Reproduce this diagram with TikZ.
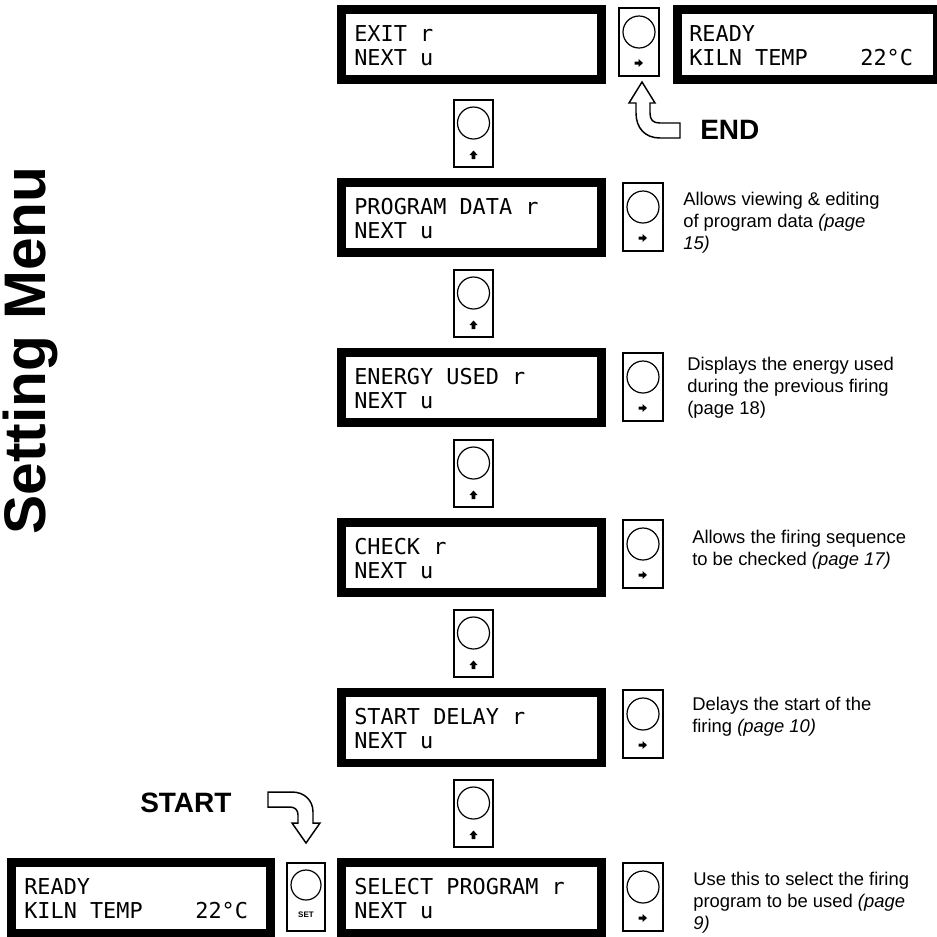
\documentclass[tikz,border=0pt]{standalone}
\usepackage{fontspec}
\setmainfont{Liberation Sans}
\newfontfamily\lcdfont{DejaVu Sans Mono}

\begin{document}
\begin{tikzpicture}[x=0.75pt,y=-0.75pt]
	\tikzset{lcd/.style={draw=black,line width=6.4pt}} %display frames
	\tikzset{lcdtext/.style={anchor=base west,inner sep=0pt,align=left,font=\lcdfont\fontsize{16.4pt}{18pt}\selectfont}}
	\tikzset{note/.style={anchor=base west,inner sep=0pt,align=left,font=\fontsize{13.8pt}{16.5pt}\selectfont}}
	\tikzset{bigword/.style={anchor=base west,inner sep=0pt,font=\bfseries\fontsize{21pt}{24pt}\selectfont}}
	\tikzset{keyline/.style={draw=black,line width=0.9pt}}
	\tikzset{bendarrow/.style={draw=black,fill=white,line width=1.1pt,line join=miter}}
	\tikzset{nextkey/.pic={ %key with right arrow
		\draw[keyline] (0,0) rectangle (40,68);
		\draw[keyline] (20,24) circle (16);
		\fill (15.5,53.5) -- (19.5,53.5) -- (19.5,51) -- (24,55) -- (19.5,59) -- (19.5,56.5) -- (15.5,56.5) -- cycle;
	}}
	\tikzset{upkey/.pic={ %key with up arrow
		\draw[keyline] (0,0) rectangle (39,67);
		\draw[keyline] (19.5,23) circle (16);
		\fill (17.7,59) -- (17.7,55) -- (15.5,55) -- (19.5,50.5) -- (23.5,55) -- (21.3,55) -- (21.3,59) -- cycle;
	}}
	\tikzset{setkey/.pic={ %set key
		\draw[keyline] (0,0) rectangle (38,68);
		\draw[keyline] (19,22) circle (15);
		\node[inner sep=0pt,font=\bfseries\fontsize{6pt}{7pt}\selectfont] (setword) at (19,52) {SET};
	}}
	\useasboundingbox (0,0) rectangle (937,936);
	\node[rotate=90,anchor=base west,inner sep=0pt,font=\bfseries\fontsize{44pt}{48pt}\selectfont] (title) at (45,535) {Setting Menu};
	\draw[lcd] (341.25,9.25) rectangle (601.75,79.75); % displays
	\draw[lcd] (341.25,182.25) rectangle (601.75,252.75);
	\draw[lcd] (341.25,352.25) rectangle (601.75,422.75);
	\draw[lcd] (341.25,522.25) rectangle (601.75,592.75);
	\draw[lcd] (341.25,692.25) rectangle (601.75,762.75);
	\draw[lcd] (341.25,862.25) rectangle (601.75,932.75);
	\draw[lcd] (11.25,862.25) rectangle (270.75,932.75);
	\draw[lcd] (677.25,9.25) rectangle (936.75,79.75);
	\node[lcdtext] (exit) at (354,65) {EXIT r\\NEXT u}; % base is the last line
	\node[lcdtext] (progdata) at (354,238) {PROGRAM DATA r\\NEXT u};
	\node[lcdtext] (energy) at (354,408) {ENERGY USED r\\NEXT u};
	\node[lcdtext] (check) at (354,578) {CHECK r\\NEXT u};
	\node[lcdtext] (delay) at (354,748) {START DELAY r\\NEXT u};
	\node[lcdtext] (select) at (354,918) {SELECT PROGRAM r\\NEXT u};
	\node[lcdtext] (readyin) at (24,918) {READY\\KILN~TEMP~~~~22°C};
	\node[lcdtext] (readyout) at (689,65) {READY\\KILN~TEMP~~~~22°C};
	\pic at (454,100) {upkey}; % keys between displays
	\pic at (454,270) {upkey};
	\pic at (454,440) {upkey};
	\pic at (454,610) {upkey};
	\pic at (454,780) {upkey};
	\pic at (619,8) {nextkey}; % keys beside displays
	\pic at (623,183) {nextkey};
	\pic at (623,353) {nextkey};
	\pic at (623,520) {nextkey};
	\pic at (623,690) {nextkey};
	\pic at (623,863) {nextkey};
	\pic at (287,863) {setkey};
	\node[note] (progdatanote) at (683,249) {Allows viewing \& editing\\of program data \textit{(page}\\\textit{15)}};
	\node[note] (energynote) at (687,414) {Displays the energy used\\during the previous firing\\(page 18)};
	\node[note] (checknote) at (692,565) {Allows the firing sequence\\to be checked \textit{(page 17)}};
	\node[note] (delaynote) at (692,732) {Delays the start of the\\firing \textit{(page 10)}};
	\node[note] (selectnote) at (693,929) {Use this to select the firing\\program to be used \textit{(page}\\\textit{9)}};
	\draw[bendarrow] (642,82) -- (655,103) -- (650,103) -- (650,113) .. controls (650,120) and (653,123) .. (660,123) -- (680,123) -- (680,138) -- (660,138) .. controls (645,138) and (636,128) .. (636,113) -- (636,103) -- (629,103) -- cycle; % end arrow
	\draw[bendarrow] (268,792) -- (292,792) .. controls (304,792) and (313,800) .. (313,812) -- (313,823) -- (320,823) -- (306,843) -- (292,823) -- (298,823) -- (298,815) .. controls (298,810) and (295,807) .. (290,807) -- (268,807) -- cycle; % start arrow
	\node[bigword] (endword) at (700,139) {END};
	\node[bigword] (startword) at (140,812) {START};
\end{tikzpicture}
\end{document}
